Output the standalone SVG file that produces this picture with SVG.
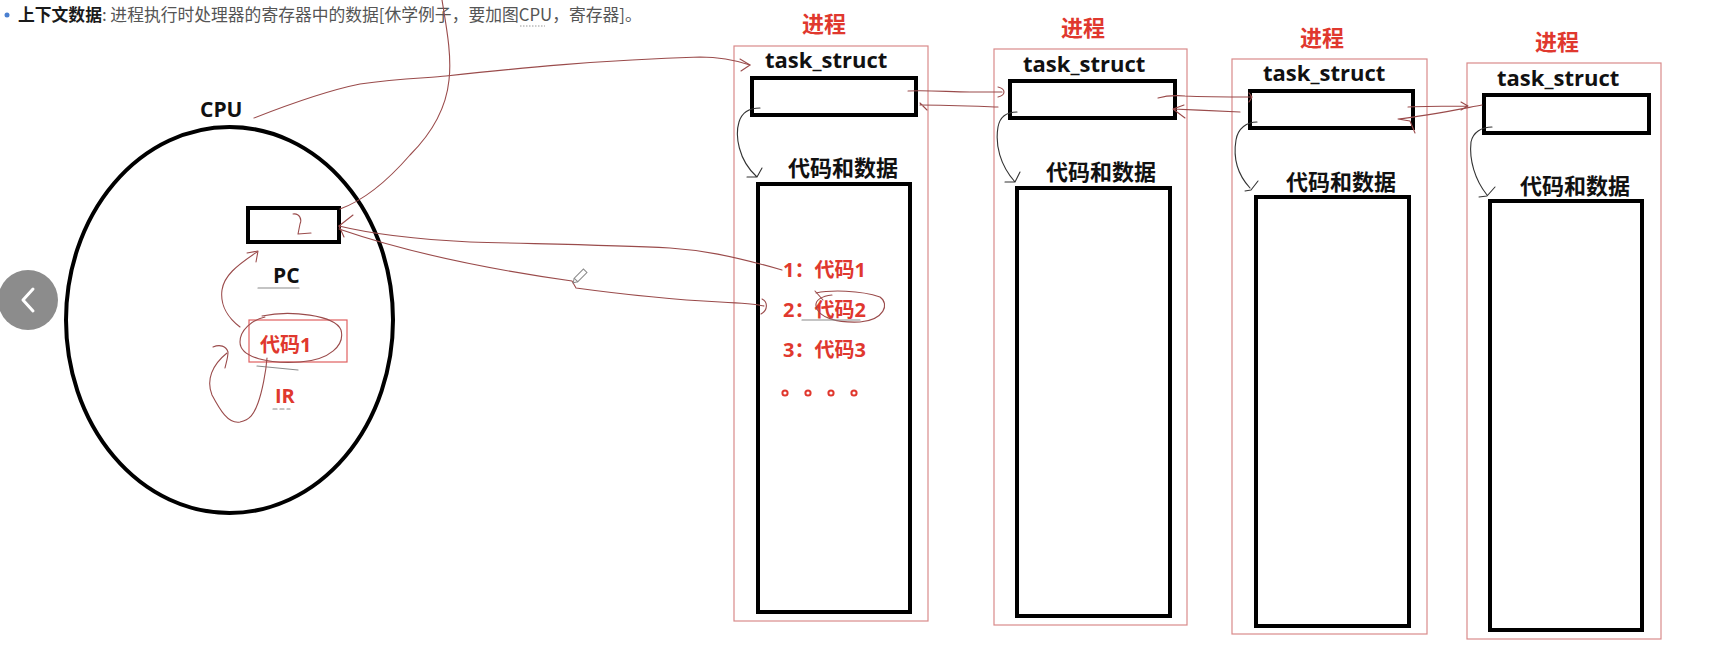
<svg xmlns="http://www.w3.org/2000/svg" width="1713" height="660" viewBox="0 0 1713 660">
<style>
.bg{fill:#ffffff}
.cjk{font-family:"Open Sans","Noto Sans CJK SC",sans-serif;font-weight:bold}
.lbl{font-size:22px;fill:#111111}
.red{fill:#e0382e}
.outer{fill:none;stroke:#d98a8a;stroke-width:1.2}
.thick{fill:none;stroke:#000000;stroke-width:4}
.hand{fill:none;stroke:#9a4b4b;stroke-width:1.1;stroke-linecap:round;stroke-linejoin:round}
.ink{fill:none;stroke:#333333;stroke-width:1.1;stroke-linecap:round;stroke-linejoin:round}
.gray{fill:none;stroke:#8a8a8a;stroke-width:1.2;stroke-linecap:round}
.dot{fill:none;stroke:#e0382e;stroke-width:2}
</style>
<rect class="bg" x="0" y="0" width="1713" height="660"/>

<g id="header">
<circle cx="7" cy="15" r="2.5" fill="#4a7fd0"/>
<text x="18" y="21" font-family="'Noto Sans CJK SC',sans-serif" font-size="16.8" fill="#555555"><tspan font-weight="bold" fill="#1a1a1a">上下文数据</tspan>: 进程执行时处理器的寄存器中的数据[休学例子，要加图CPU，寄存器]。</text>
<line x1="520" y1="26" x2="545" y2="26" stroke="#999999" stroke-width="1" stroke-dasharray="1.5 1.5"/>
</g>

<g id="nav-button">
<circle cx="28" cy="300" r="30" fill="#8c8c8c"/>
<path d="M33,289 L23,300 L33,311" fill="none" stroke="#ffffff" stroke-width="3" stroke-linecap="round" stroke-linejoin="round"/>
</g>

<g id="cpu">
<text class="cjk" x="200" y="117" font-size="21" fill="#111111">CPU</text>
<ellipse cx="229.5" cy="320" rx="163.5" ry="193" fill="none" stroke="#000000" stroke-width="4"/>
</g>

<g id="pc-register">
<rect class="thick" x="248" y="208" width="91" height="34"/>
<path class="hand" d="M293,214 C300,213 302,220 300,224 L298,234 L311,233"/>
<text class="cjk" x="273" y="283" font-size="21" fill="#111111">PC</text>
<line class="gray" x1="258" y1="288" x2="299" y2="288"/>
</g>

<g id="ir-register">
<rect x="249" y="320" width="98" height="42" fill="none" stroke="#e06060" stroke-width="1.2"/>
<text class="cjk red" x="260" y="352" font-size="20">代码1</text>
<text class="cjk red" x="275" y="403" font-size="20">IR</text>
<line class="gray" x1="273" y1="409" x2="290" y2="409" stroke-dasharray="4 3"/>
</g>

<g id="process-1">
<rect class="outer" x="734" y="46" width="194" height="575"/>
<text class="cjk red" x="802" y="32" font-size="22">进程</text>
<text class="cjk lbl" x="765" y="68" font-size="21">task_struct</text>
<rect class="thick" x="752" y="78" width="164" height="37"/>
<text class="cjk lbl" x="788" y="176">代码和数据</text>
<rect class="thick" x="758" y="184" width="152" height="428"/>
<text class="cjk red" x="783" y="277" font-size="20">1：代码1</text>
<text class="cjk red" x="783" y="317" font-size="20">2：代码2</text>
<text class="cjk red" x="783" y="357" font-size="20">3：代码3</text>
<circle class="dot" cx="785" cy="393" r="2.6"/>
<circle class="dot" cx="808" cy="393" r="2.6"/>
<circle class="dot" cx="831" cy="393" r="2.6"/>
<circle class="dot" cx="854" cy="393" r="2.6"/>
</g>

<g id="process-2">
<rect class="outer" x="994" y="49" width="193" height="576"/>
<text class="cjk red" x="1061" y="36" font-size="22">进程</text>
<text class="cjk lbl" x="1023" y="72" font-size="21">task_struct</text>
<rect class="thick" x="1010" y="81" width="165" height="37"/>
<text class="cjk lbl" x="1046" y="180">代码和数据</text>
<rect class="thick" x="1017" y="188" width="153" height="428"/>
</g>

<g id="process-3">
<rect class="outer" x="1232" y="59" width="195" height="575"/>
<text class="cjk red" x="1300" y="46" font-size="22">进程</text>
<text class="cjk lbl" x="1263" y="81" font-size="21">task_struct</text>
<rect class="thick" x="1250" y="91" width="163" height="37"/>
<text class="cjk lbl" x="1286" y="190">代码和数据</text>
<rect class="thick" x="1256" y="197" width="153" height="429"/>
</g>

<g id="process-4">
<rect class="outer" x="1467" y="63" width="194" height="576"/>
<text class="cjk red" x="1535" y="50" font-size="22">进程</text>
<text class="cjk lbl" x="1497" y="86" font-size="21">task_struct</text>
<rect class="thick" x="1484" y="95" width="165" height="38"/>
<text class="cjk lbl" x="1520" y="194">代码和数据</text>
<rect class="thick" x="1490" y="201" width="152" height="429"/>
</g>

<g id="connectors">
<path class="hand" d="M254,118 C300,100 330,90 360,84 C400,78 430,78 446,76 C520,68 600,60 700,57 C720,57 735,60 750,65"/>
<path class="hand" d="M740,59 L750,65 L741,71"/>
<path class="hand" d="M442,0 C446,25 452,55 449,80 C446,110 430,135 410,155 C390,178 365,200 340,209"/>
<path class="hand" d="M339,226 C380,236 430,240 470,242 C540,244 610,245 670,248 C700,250 730,255 782,270"/>
<path class="hand" d="M339,229 C400,250 480,268 572,281 L576,288 C620,294 680,300 720,302 C740,303 755,304 764,306"/>
<path class="hand" d="M762,299 C768,302 768,310 761,314"/>
<path class="hand" d="M353,215 L339,226 L344,237"/>
<g transform="translate(576,280) rotate(-45)">
<rect x="0" y="-2.5" width="13" height="5" fill="#ffffff" stroke="#8a8a8a" stroke-width="1"/>
<path d="M0,-2.5 L-4,0 L0,2.5" fill="none" stroke="#8a8a8a" stroke-width="1"/>
</g>
<path class="hand" d="M816,293 C830,290 860,290 880,297 C890,304 884,320 860,322 C838,323 818,318 816,306 C815,300 822,296 832,295"/>
<line class="gray" x1="802" y1="320" x2="860" y2="320"/>
<path class="hand" d="M815,291 L823,300"/>
<path class="hand" d="M240,327 C228,318 220,305 222,290 C224,276 236,266 257,252"/>
<path class="hand" d="M247,253 L258,251 L256,262"/>
<path class="hand" d="M262,316 C290,310 335,315 341,330 C345,345 330,360 300,362 C270,364 240,358 240,342 C240,330 252,320 265,317"/>
<line class="gray" x1="257" y1="366" x2="298" y2="370"/>
<path class="hand" d="M267,358 C266,372 262,392 258,403 C254,414 250,420 240,422 C228,424 220,410 212,395 C206,380 212,365 227,353"/>
<path class="hand" d="M213,347 C220,344 226,346 228,352 C228,358 226,363 225,368"/>
<path class="hand" d="M908,91 C930,90 950,92 970,92 C985,92 995,92 1002,92"/>
<path class="hand" d="M998,87 C1006,89 1006,95 998,97"/>
<path class="hand" d="M998,107 C970,106 945,105 920,105 M920,103 L927,110"/>
<path class="hand" d="M1158,98 C1165,96 1172,95 1185,96 C1205,97 1230,97 1252,97 M1249,93 L1252,97 L1249,102"/>
<path class="hand" d="M1240,112 C1220,111 1195,110 1173,109 M1184,105 L1173,109 L1185,118"/>
<path class="hand" d="M1408,107 C1430,106 1450,106 1468,106 M1461,102 L1468,106 L1461,110"/>
<path class="hand" d="M1482,105 C1455,110 1425,116 1398,119 L1410,121 L1415,133"/>
<path class="ink" d="M760,108 C750,108 742,112 739,122 C735,135 738,160 757,177 M762,168 L757,177 L747,177"/>
<path class="ink" d="M1017,112 C1008,112 1000,116 998,127 C995,145 1000,165 1015,182 M1020,172 L1015,182 L1005,182"/>
<path class="ink" d="M1257,122 C1247,122 1238,128 1236,140 C1233,158 1238,175 1250,188 M1258,181 L1251,190 L1245,191"/>
<path class="ink" d="M1492,127 C1482,127 1473,132 1471,142 C1469,160 1475,180 1487,195 M1495,187 L1487,196 L1479,197"/>
</g>
</svg>
